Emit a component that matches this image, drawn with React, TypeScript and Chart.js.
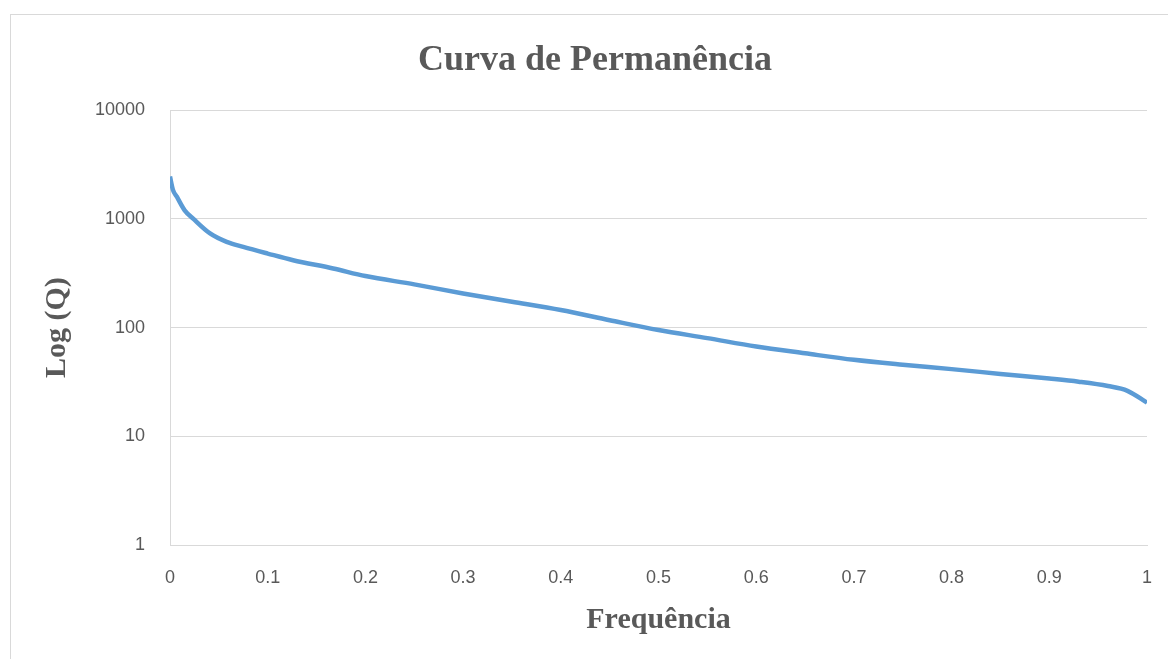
import React, { useEffect, useRef } from "react";
import { Chart, registerables } from "chart.js";

Chart.register(...registerables);

const chartTitle = "Curva de Permanência";
const xTitle = "Frequência";
const yTitle = "Log (Q)";

const freq = [0, 0.003, 0.007, 0.015, 0.024, 0.041, 0.058, 0.075, 0.1, 0.126, 0.167, 0.2, 0.25, 0.3, 0.35, 0.4, 0.45, 0.5, 0.55, 0.6, 0.65, 0.7, 0.75, 0.8, 0.85, 0.9, 0.93, 0.96, 0.98, 1.0];
const vazao = [2450, 1850, 1600, 1200, 1000, 735, 615, 553, 480, 417, 350, 298, 250, 206, 173, 145, 117, 95, 80, 67, 58, 50.5, 45.5, 41.5, 37.5, 34, 31.8, 29, 26.2, 20.4];

const xTickValues = [0, 0.1, 0.2, 0.3, 0.4, 0.5, 0.6, 0.7, 0.8, 0.9, 1];
const xTickLabels = ["0", "0.1", "0.2", "0.3", "0.4", "0.5", "0.6", "0.7", "0.8", "0.9", "1"];
const yTickValues = [1, 10, 100, 1000, 10000];
const yTickLabels = ["1", "10", "100", "1000", "10000"];

const CW = 1170;
const CH = 645;

const borderPlugin = {
  id: "outerBorder",
  beforeDraw(chart: any) {
    const ctx = chart.ctx;
    ctx.save();
    ctx.fillStyle = "#ffffff";
    ctx.fillRect(0, 0, chart.width, chart.height);
    ctx.strokeStyle = "#d9d9d9";
    ctx.lineWidth = 1;
    ctx.strokeRect(0.5, 0.5, chart.width + 10, chart.height + 10);
    ctx.restore();
  },
};

export default function App() {
  const ref = useRef<HTMLCanvasElement | null>(null);

  useEffect(() => {
    if (!ref.current) return;
    const points = freq.map((f, i) => ({ x: f, y: vazao[i] }));
    const chart = new Chart(ref.current, {
      type: "line",
      data: {
        datasets: [
          {
            data: points,
            borderColor: "#5b9bd5",
            backgroundColor: "#5b9bd5",
            borderWidth: 4.5,
            pointRadius: 0,
            cubicInterpolationMode: "monotone",
            fill: false,
            yAxisID: "y",
          },
        ],
      },
      options: {
        animation: false,
        responsive: false,
        devicePixelRatio: 1,
        layout: { padding: 0 },
        plugins: {
          legend: { display: false },
          tooltip: { enabled: false },
          title: {
            display: true,
            text: chartTitle,
            color: "#595959",
            font: { family: "'Liberation Serif', 'DejaVu Serif', serif", size: 36, weight: "bold" },
            padding: { top: 25, bottom: 28 },
          },
        },
        scales: {
          x: {
            type: "linear",
            min: 0,
            max: 1,
            afterBuildTicks(scale: any) {
              scale.ticks = xTickValues.map((v) => ({ value: v }));
            },
            afterFit(scale: any) {
              scale.height = CH - 531;
            },
            ticks: {
              padding: 22,
              color: "#595959",
              font: { family: "'Liberation Sans', sans-serif", size: 18 },
              maxRotation: 0,
              callback: (_v: any, i: number) => xTickLabels[i],
            },
            grid: { display: false, drawTicks: false },
            border: { display: true, color: "#d9d9d9", width: 1 },
            title: {
              display: true,
              text: xTitle,
              color: "#595959",
              font: { family: "'Liberation Serif', 'DejaVu Serif', serif", size: 30, weight: "bold" },
              padding: { top: 0, bottom: 21 },
            },
          },
          y: {
            type: "logarithmic",
            position: "left",
            min: 1,
            max: 10000,
            afterBuildTicks(scale: any) {
              scale.ticks = yTickValues.map((v) => ({ value: v, major: true }));
            },
            afterFit(scale: any) {
              scale.width = 160;
            },
            ticks: {
              padding: 25,
              color: "#595959",
              font: { family: "'Liberation Sans', sans-serif", size: 18 },
              callback: (_v: any, i: number) => yTickLabels[i],
            },
            grid: { color: "#d9d9d9", drawTicks: false, lineWidth: 1 },
            border: { display: true, color: "#d9d9d9", width: 1 },
            title: {
              display: true,
              text: yTitle,
              color: "#595959",
              font: { family: "'Liberation Serif', 'DejaVu Serif', serif", size: 30, weight: "bold" },
              padding: { top: 29, bottom: 0 },
            },
          },
          yRight: {
            type: "linear",
            position: "right",
            display: true,
            grid: { display: false, drawTicks: false },
            border: { display: false },
            ticks: { display: false },
            afterFit(scale: any) {
              scale.width = CW - 1137;
            },
          },
        },
      },
      plugins: [borderPlugin],
    } as any);
    return () => chart.destroy();
  }, []);

  return (
    <div style={{ position: "fixed", left: 0, top: 0, width: 1168, height: 659, overflow: "hidden", background: "#ffffff" }}>
      <canvas
        ref={ref}
        width={CW}
        height={CH}
        style={{ position: "absolute", left: 10, top: 14, width: CW, height: CH }}
      />
    </div>
  );
}
